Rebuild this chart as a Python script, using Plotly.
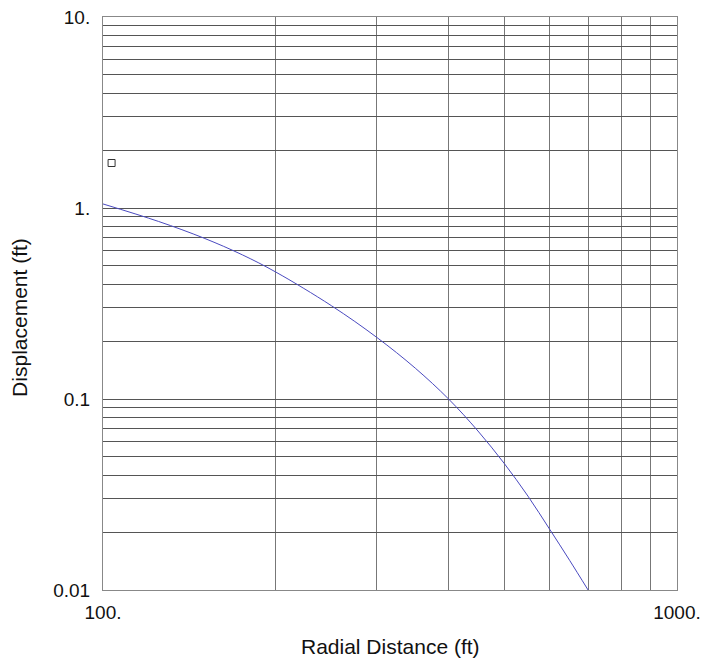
import plotly.graph_objects as go

# Curve values (radial distance ft, displacement ft)
radial_distance = [100, 125, 150, 175, 200, 250, 300, 350, 400, 450, 500, 550, 600, 650, 700]
displacement = [1.05, 0.85, 0.695, 0.568, 0.462, 0.308, 0.210, 0.145, 0.100, 0.068, 0.046, 0.031, 0.0208, 0.0143, 0.010]

# Single observed point (hollow square)
obs_x = [103.5]
obs_y = [1.72]

x_tick_vals = [100, 200, 300, 400, 500, 600, 700, 800, 900, 1000]
x_tick_text = ["100.", "", "", "", "", "", "", "", "", "1000."]

y_tick_vals = [0.01, 0.02, 0.03, 0.04, 0.05, 0.06, 0.07, 0.08, 0.09,
               0.1, 0.2, 0.3, 0.4, 0.5, 0.6, 0.7, 0.8, 0.9,
               1, 2, 3, 4, 5, 6, 7, 8, 9, 10]
y_tick_text = ["0.01", "", "", "", "", "", "", "", "",
               "0.1", "", "", "", "", "", "", "", "",
               "1.", "", "", "", "", "", "", "", "", "10."]

FONT = "Liberation Sans, Arial, sans-serif"

fig = go.Figure()
fig.add_trace(go.Scatter(
    x=radial_distance, y=displacement, mode="lines",
    line=dict(color="#4a4ac0", width=1, shape="spline", smoothing=1.0),
    showlegend=False, hoverinfo="skip"))
fig.add_trace(go.Scatter(
    x=obs_x, y=obs_y, mode="markers",
    marker=dict(symbol="square-open", size=7, color="#333333", line=dict(width=1)),
    showlegend=False, hoverinfo="skip"))

fig.update_xaxes(
    type="log", range=[2, 3], tickvals=x_tick_vals, ticktext=x_tick_text,
    showgrid=True, gridcolor="#777777", gridwidth=1,
    showline=True, linecolor="#888888", linewidth=1, mirror=True,
    ticks="", zeroline=False, ticklabelstandoff=5, automargin=False,
    ticklabeloverflow="allow",
    tickfont=dict(family=FONT, size=19, color="#111111"))
fig.update_yaxes(
    type="log", range=[-2, 1], tickvals=y_tick_vals, ticktext=y_tick_text,
    showgrid=True, gridcolor="#555555", gridwidth=1,
    showline=True, linecolor="#888888", linewidth=1, mirror=True,
    ticks="", zeroline=False, ticklabelstandoff=8, automargin=False,
    ticklabeloverflow="allow",
    tickfont=dict(family=FONT, size=19, color="#111111"))

fig.add_annotation(text="Radial Distance (ft)", xref="paper", yref="paper",
                   x=0.5, y=-0.098, xanchor="center", yanchor="middle",
                   showarrow=False, font=dict(family=FONT, size=21, color="#111111"))
fig.add_annotation(text="Displacement (ft)", xref="paper", yref="paper",
                   x=-0.1445, y=0.475, xanchor="center", yanchor="middle",
                   textangle=-90, showarrow=False,
                   font=dict(family=FONT, size=21, color="#111111"))

fig.update_layout(
    width=701, height=658,
    margin=dict(l=103, r=24, t=17, b=68),
    paper_bgcolor="white", plot_bgcolor="white",
)

# Remove the browser's default 8px body margin so the figure fills the window.
fig.write_html("out.html", config={"displayModeBar": False},
               post_script="document.body.style.margin='0px';")
